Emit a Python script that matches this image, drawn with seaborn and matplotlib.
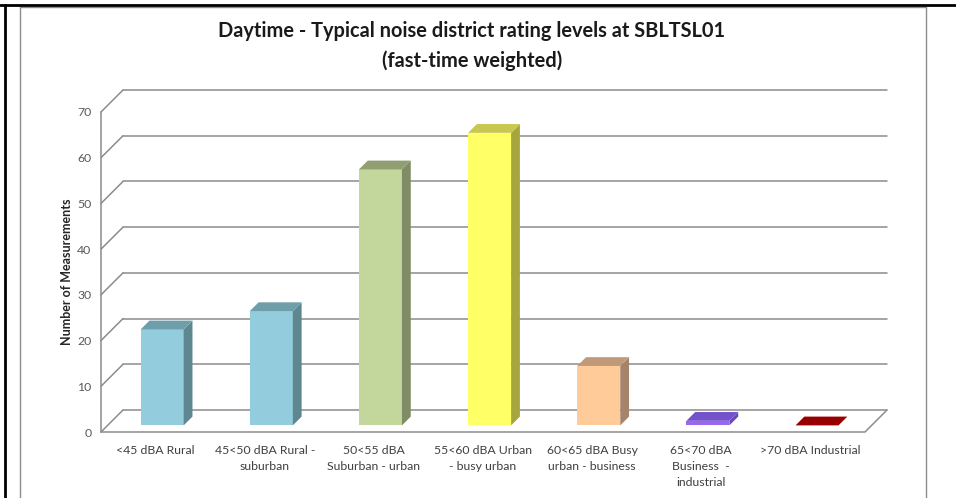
import matplotlib
matplotlib.use("Agg")
import matplotlib.pyplot as plt
from matplotlib.lines import Line2D
import seaborn as sns

# data
categories = ["<45 dBA Rural", "45<50 dBA Rural -\nsuburban", "50<55 dBA\nSuburban - urban",
              "55<60 dBA Urban\n- busy urban", "60<65 dBA Busy\nurban - business",
              "65<70 dBA\nBusiness  -\nindustrial", ">70 dBA Industrial"]
values = [21, 25, 56, 64, 13, 1, 0]
front_colors = ["#93CDDD", "#93CDDD", "#C3D69B", "#FFFF66", "#FFCC99", "#9966EE", "#A00000"]
side_colors = ["#5F8790", "#5F8790", "#7F8C65", "#A6A63C", "#A6846B", "#6A48B8", "#7A0000"]
top_colors = ["#6E9EAA", "#6E9EAA", "#909E71", "#C8C850", "#C09A78", "#7452CC", "#990000"]
y_ticks = [0, 10, 20, 30, 40, 50, 60, 70]

sns.set_style("white")
plt.rcParams["font.family"] = ["Lato", "DejaVu Sans"]

fig = plt.figure(figsize=(9.56, 4.98), dpi=100)
# axes = front plane of the 3d box
ax = fig.add_axes([101 / 956, 66 / 498, 764 / 956, 320 / 498])

sns.barplot(x=categories, y=values, hue=categories, palette=front_colors, legend=False,
            saturation=1, width=0.394, ax=ax, zorder=2)
ax.set_xlim(-0.5, 6.5)
ax.set_ylim(0, 70)

# depth of the box in data units (22 px right, 22 px up)
DX = 22 / (764 / 7)
DY = 22 / (320 / 70)
z0, z1 = 0.3, 0.7  # bar depth range

for i, p in enumerate(ax.patches):
    w = p.get_width()
    h = p.get_height()
    x0 = p.get_x() + DX * z0
    y0 = DY * z0
    p.set_x(x0)
    p.set_y(y0)
    p.set_edgecolor("none")
    ddx, ddy = DX * (z1 - z0), DY * (z1 - z0)
    ax.fill([x0 + w, x0 + w + ddx, x0 + w + ddx, x0 + w],
            [y0, y0 + ddy, y0 + h + ddy, y0 + h],
            color=side_colors[i], lw=0, zorder=2, clip_on=False)
    ax.fill([x0, x0 + w, x0 + w + ddx, x0 + ddx],
            [y0 + h, y0 + h, y0 + h + ddy, y0 + h + ddy],
            color=top_colors[i], lw=0, zorder=2, clip_on=False)

grid_kw = dict(color="#8c8c8c", lw=1.1, zorder=0.5, clip_on=False)
for v in y_ticks:
    ax.plot([-0.5 + DX, 6.5 + DX], [v + DY, v + DY], **grid_kw)
    ax.plot([-0.5, -0.5 + DX], [v, v + DY], **grid_kw)
ax.plot([-0.5, -0.5], [0, 70], **grid_kw)
ax.plot([-0.5, 6.5, 6.5 + DX], [0, 0, DY], **grid_kw)

sns.despine(ax=ax, left=True, bottom=True)
ax.set_yticks(y_ticks)
ax.tick_params(axis="y", length=0, pad=7, labelsize=8.8, labelcolor="#595959")
ax.tick_params(axis="x", length=0, pad=9, labelsize=8.8, labelcolor="#404040")
for t in ax.get_xticklabels():
    t.set_linespacing(1.6)
ax.set_xlabel("")
ax.set_ylabel("Number of Measurements", fontsize=9, fontweight="bold", color="#262626", labelpad=3)

fig.text(472 / 956, 1 - 21 / 498, "Daytime - Typical noise district rating levels at SBLTSL01\n(fast-time weighted)",
         ha="center", va="top", fontsize=14.4, fontweight="bold", color="#1a1a1a", linespacing=1.55)

# chart border and page lines
g = "#8c8c8c"
fig.add_artist(Line2D([20 / 956, 20 / 956], [0, 1 - 7 / 498], color=g, lw=1))
fig.add_artist(Line2D([926 / 956, 926 / 956], [0, 1 - 7 / 498], color=g, lw=1))
fig.add_artist(Line2D([20 / 956, 926 / 956], [1 - 7 / 498, 1 - 7 / 498], color=g, lw=1))
fig.add_artist(Line2D([0, 1], [1 - 5 / 498, 1 - 5 / 498], color="black", lw=2))
fig.add_artist(Line2D([5 / 956, 5 / 956], [0, 1 - 5 / 498], color="black", lw=2))

fig.savefig("out.png", dpi=100)
